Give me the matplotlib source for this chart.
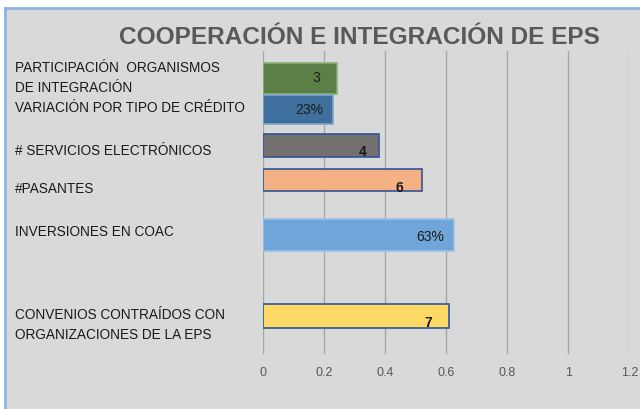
import matplotlib
matplotlib.use("Agg")
import matplotlib.pyplot as plt
from matplotlib.patches import Rectangle
from matplotlib.lines import Line2D

# data
categorias = ["PARTICIPACIÓN  ORGANISMOS\nDE INTEGRACIÓN",
              "VARIACIÓN POR TIPO DE CRÉDITO",
              "# SERVICIOS ELECTRÓNICOS",
              "#PASANTES",
              "INVERSIONES EN COAC",
              "CONVENIOS CONTRAÍDOS CON\nORGANIZACIONES DE LA EPS"]
valores = [0.242, 0.228, 0.38, 0.52, 0.626, 0.61]
etiquetas = ["3", "23%", "4", "6", "63%", "7"]
xticks = [0, 0.2, 0.4, 0.6, 0.8, 1.0, 1.2]
xticklabels = ["0", "0.2", "0.4", "0.6", "0.8", "1", "1.2"]

# layout (rows in pixel units from the top of the picture)
centros = [79, 110.5, 146.7, 181.3, 235.8, 317]
alturas = [31, 29.5, 23.3, 22, 31.7, 23.4]
colores = ["#5b7f46", "#3f6f9d", "#767171", "#f4b183", "#6fa5d8", "#ffd966"]
bordes = ["#8db070", "#7fa4cc", "#2f5597", "#2f5597", "#9cc2e8", "#2f5597"]
negrita = [False, False, True, True, False, True]
desplaz = [(-12, 1), (-7, 0), (-9, -4), (-13, -5), (-7, -1), (-12, -4)]
lab_y = [[68, 88], [108], [151], [189], [232], [315, 335]]

plt.rcParams["font.family"] = ["Liberation Sans", "DejaVu Sans"]

W, H = 640, 410
fig = plt.figure(figsize=(6.4, 4.1), dpi=100)
fig.patch.set_facecolor("white")

# chart area background with blue frame (left/top)
fig.patches.append(Rectangle((5 / W, 0), 1, 1 - 9 / H, transform=fig.transFigure,
                             facecolor="#d9d9d9", edgecolor="none", zorder=-2))
fig.lines.append(Line2D([5 / W, 1], [1 - 9 / H, 1 - 9 / H], transform=fig.transFigure,
                        color="#8db3e2", lw=2, zorder=-1))
fig.lines.append(Line2D([5 / W, 5 / W], [0, 1 - 9 / H], transform=fig.transFigure,
                        color="#8db3e2", lw=2, zorder=-1))

x0, x1 = 263, 629.3
ytop, ybot = 52, 355
ax = fig.add_axes([x0 / W, 1 - ybot / H, (x1 - x0) / W, (ybot - ytop) / H])
ax.set_zorder(1)
ax.set_facecolor("none")
ax.set_xlim(0, 1.2)
ax.set_ylim(ybot, ytop)

ax.barh(centros, valores, height=alturas, color=colores, edgecolor=bordes,
        linewidth=1.2, zorder=3)
for c, v, t, b, d in zip(centros, valores, etiquetas, negrita, desplaz):
    ax.annotate(t, (v, c), xytext=d, textcoords="offset points",
                ha="right", va="center", fontsize=10, color="#1a1a1a",
                fontweight="bold" if b else "normal", zorder=4)

ax.set_xticks(xticks)
ax.set_xticklabels(xticklabels)
ax.set_yticks([])
ax.tick_params(axis="x", length=0, pad=9, labelsize=9, labelcolor="#595959")
ax.grid(axis="x", color="#a6a6a6", lw=1, zorder=1)
for s in ax.spines.values():
    s.set_visible(False)

for cat, ys in zip(categorias, lab_y):
    for linea, y in zip(cat.split("\n"), ys):
        fig.text(15 / W, 1 - y / H, linea, ha="left", va="center",
                 fontsize=9.8, color="#1a1a1a")

fig.text(359 / W, 1 - 38 / H, "COOPERACIÓN E INTEGRACIÓN DE EPS", ha="center",
         va="center", fontsize=17.6, fontweight="bold", color="#595959")

fig.savefig("out.png", dpi=100, facecolor="white")
